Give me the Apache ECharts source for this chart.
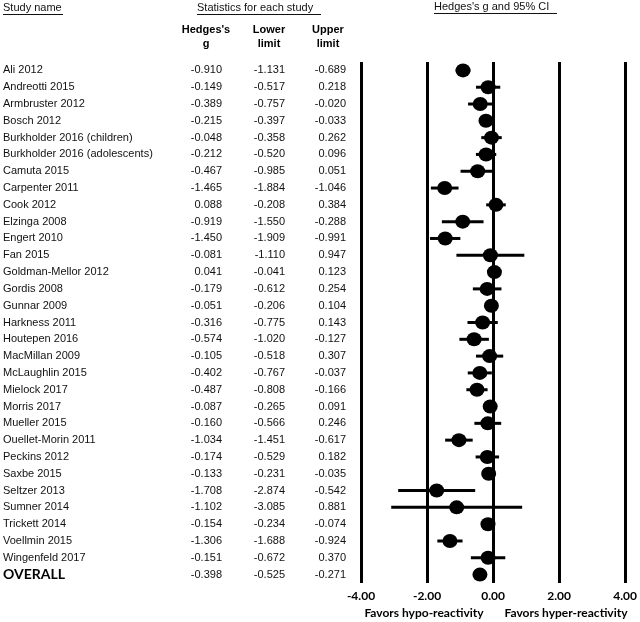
<!DOCTYPE html>
<html>
<head>
<meta charset="utf-8">
<script src="https://cdn.jsdelivr.net/npm/echarts@6/dist/echarts.min.js"></script>
<style>html,body{margin:0;padding:0;background:#fff;}#c{width:640px;height:622px;}</style>
</head>
<body>
<div id="c"></div>
<script>
const studies = ["Ali 2012","Andreotti 2015","Armbruster 2012","Bosch 2012","Burkholder 2016 (children)","Burkholder 2016 (adolescents)","Camuta 2015","Carpenter 2011","Cook 2012","Elzinga 2008","Engert 2010","Fan 2015","Goldman-Mellor 2012","Gordis 2008","Gunnar 2009","Harkness 2011","Houtepen 2016","MacMillan 2009","McLaughlin 2015","Mielock 2017","Morris 2017","Mueller 2015","Ouellet-Morin 2011","Peckins 2012","Saxbe 2015","Seltzer 2013","Sumner 2014","Trickett 2014","Voellmin 2015","Wingenfeld 2017","OVERALL"];
const hedgesG = [-0.910,-0.149,-0.389,-0.215,-0.048,-0.212,-0.467,-1.465,0.088,-0.919,-1.450,-0.081,0.041,-0.179,-0.051,-0.316,-0.574,-0.105,-0.402,-0.487,-0.087,-0.160,-1.034,-0.174,-0.133,-1.708,-1.102,-0.154,-1.306,-0.151,-0.398];
const lowerLimit = [-1.131,-0.517,-0.757,-0.397,-0.358,-0.520,-0.985,-1.884,-0.208,-1.550,-1.909,-1.110,-0.041,-0.612,-0.206,-0.775,-1.020,-0.518,-0.767,-0.808,-0.265,-0.566,-1.451,-0.529,-0.231,-2.874,-3.085,-0.234,-1.688,-0.672,-0.525];
const upperLimit = [-0.689,0.218,-0.020,-0.033,0.262,0.096,0.051,-1.046,0.384,-0.288,-0.991,0.947,0.123,0.254,0.104,0.143,-0.127,0.307,-0.037,-0.166,0.091,0.246,-0.617,0.182,-0.035,-0.542,0.881,-0.074,-0.924,0.370,-0.271];
const xTicks = [-4, -2, 0, 2, 4];

const chart = echarts.init(document.getElementById('c'), null, {renderer: 'canvas'});
const tableFont = {fontFamily: 'Liberation Sans, Arial, sans-serif', fontSize: 11, color: '#111'};
const GRID_LEFT = 361;

function colAxis(arr, rightEdge) {
  return {
    type: 'category', inverse: true, data: studies, position: 'left', offset: 0,
    axisLine: {show: false}, axisTick: {show: false}, splitLine: {show: false},
    axisLabel: Object.assign({}, tableFont, {
      margin: GRID_LEFT - rightEdge, align: 'right', interval: 0,
      formatter: (v, i) => arr[i].toFixed(3)
    })
  };
}

const option = {
  animation: false,
  backgroundColor: '#fff',
  grid: {left: GRID_LEFT, right: 10, top: 62, bottom: 39},
  xAxis: {
    type: 'value', min: xTicks[0], max: xTicks[xTicks.length - 1], interval: 2,
    axisLine: {show: false}, axisTick: {show: false},
    splitLine: {show: true, lineStyle: {color: '#000', width: 3}},
    axisLabel: {margin: 7, fontFamily: 'Lato, Open Sans, sans-serif', fontWeight: 'bold', fontSize: 12, color: '#000',
      formatter: v => v.toFixed(2)}
  },
  yAxis: [
    {
      type: 'category', inverse: true, data: studies, position: 'left',
      axisLine: {show: false}, axisTick: {show: false}, splitLine: {show: false},
      axisLabel: Object.assign({}, tableFont, {
        margin: GRID_LEFT - 3, align: 'left', interval: 0,
        formatter: v => v === 'OVERALL' ? '{b|' + v + '}' : v,
        rich: {b: {fontFamily: 'Lato, Open Sans, sans-serif', fontWeight: 'bold', fontSize: 14, color: '#000'}}
      })
    },
    colAxis(hedgesG, 222),
    colAxis(lowerLimit, 285),
    colAxis(upperLimit, 346)
  ],
  graphic: [
    {type: 'text', left: 3, top: 2, style: {text: 'Study name', font: '11px Liberation Sans', fill: '#111'}},
    {type: 'line', shape: {x1: 3, y1: 14.5, x2: 63, y2: 14.5}, style: {stroke: '#111', lineWidth: 1}},
    {type: 'text', left: 197, top: 2, style: {text: 'Statistics for each study', font: '11px Liberation Sans', fill: '#111'}},
    {type: 'line', shape: {x1: 197, y1: 14.5, x2: 321, y2: 14.5}, style: {stroke: '#111', lineWidth: 1}},
    {type: 'text', left: 434, top: 1, style: {text: "Hedges's g and 95% CI", font: '11px Liberation Sans', fill: '#111'}},
    {type: 'line', shape: {x1: 434, y1: 13.5, x2: 557, y2: 13.5}, style: {stroke: '#111', lineWidth: 1}},
    {type: 'text', x: 206, y: 23, style: {text: "Hedges's\ng", font: 'bold 11px Liberation Sans', fill: '#000', align: 'center', lineHeight: 14}},
    {type: 'text', x: 269, y: 23, style: {text: "Lower\nlimit", font: 'bold 11px Liberation Sans', fill: '#000', align: 'center', lineHeight: 14}},
    {type: 'text', x: 328, y: 23, style: {text: "Upper\nlimit", font: 'bold 11px Liberation Sans', fill: '#000', align: 'center', lineHeight: 14}},
    {type: 'text', x: 424, y: 613, style: {text: 'Favors hypo-reactivity', font: 'bold 12px Lato', fill: '#000', align: 'center', verticalAlign: 'middle'}},
    {type: 'text', x: 566, y: 613, style: {text: 'Favors hyper-reactivity', font: 'bold 12px Lato', fill: '#000', align: 'center', verticalAlign: 'middle'}}
  ],
  series: [
    {
      type: 'custom', yAxisIndex: 0, z: 3,
      data: studies.map((s, i) => [lowerLimit[i], upperLimit[i], i]),
      encode: {x: [0, 1], y: 2},
      renderItem: function (params, api) {
        const a = api.coord([api.value(0), api.value(2)]);
        const b = api.coord([api.value(1), api.value(2)]);
        return {type: 'line', shape: {x1: a[0], y1: a[1], x2: b[0], y2: b[1]}, style: {stroke: '#000', lineWidth: 3}};
      }
    },
    {
      type: 'scatter', yAxisIndex: 0, z: 4,
      data: studies.map((s, i) => [hedgesG[i], i]),
      symbol: 'circle', symbolSize: [15, 14],
      itemStyle: {color: '#000', opacity: 1}
    }
  ]
};
chart.setOption(option);
</script>
</body>
</html>
